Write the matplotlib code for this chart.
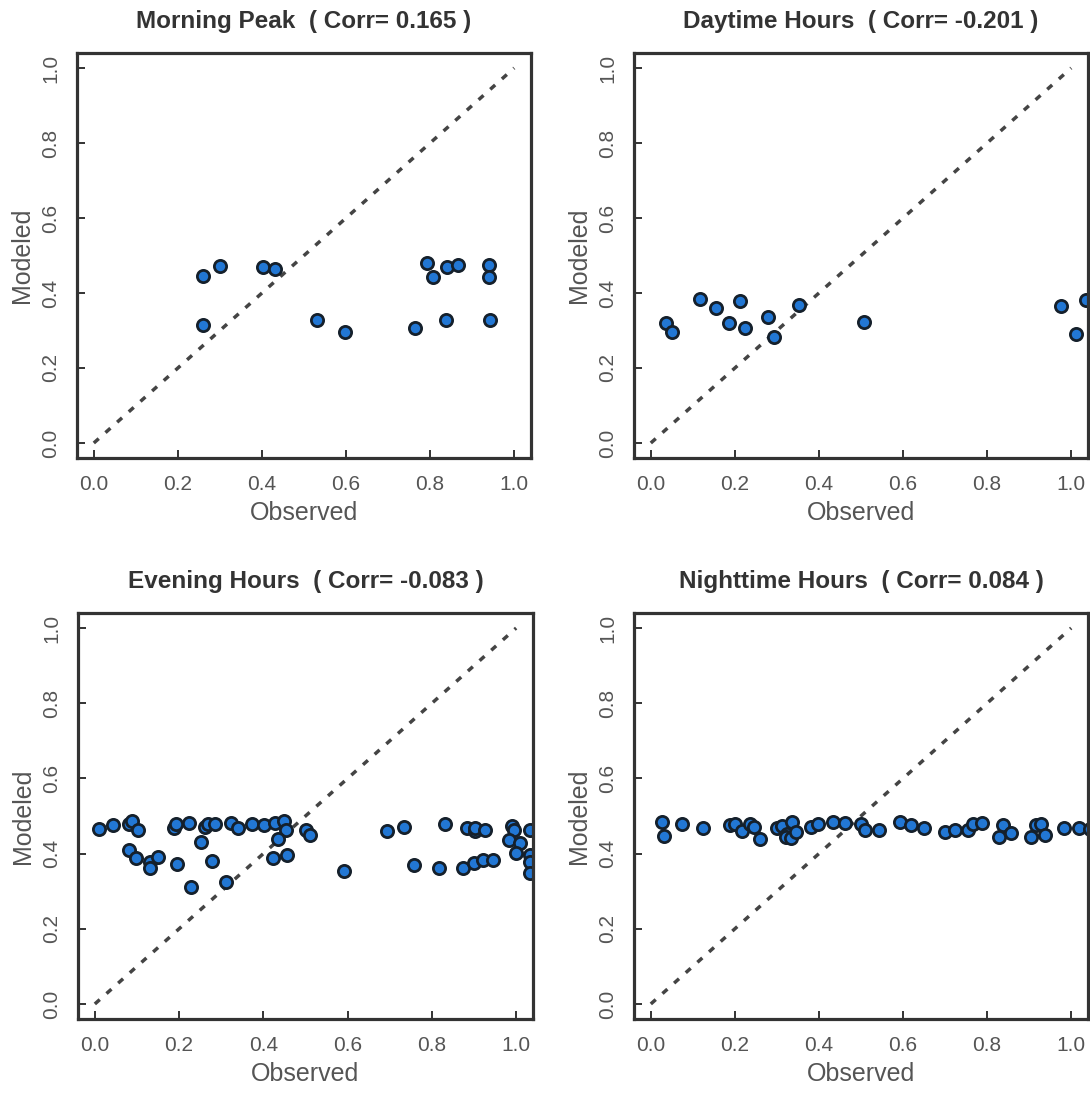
"""Observed vs modeled share by time-of-day period, 2x2 scatter with 1:1 line."""
import matplotlib.pyplot as plt

plt.rcParams["font.family"] = ["Liberation Sans", "DejaVu Sans"]

PERIODS = ["Morning Peak", "Daytime Hours", "Evening Hours", "Nighttime Hours"]
CORRS = ["0.165", "-0.201", "-0.083", "0.084"]

morning_obs = [0.259, 0.259, 0.299, 0.403, 0.432, 0.530, 0.597, 0.763, 0.792, 0.807,
               0.840, 0.867, 0.838, 0.939, 0.939, 0.943]
morning_mod = [0.446, 0.315, 0.473, 0.470, 0.465, 0.329, 0.297, 0.306, 0.480, 0.443,
               0.470, 0.474, 0.329, 0.474, 0.443, 0.329]

daytime_obs = [0.035, 0.051, 0.118, 0.156, 0.187, 0.211, 0.223, 0.278, 0.294, 0.353,
               0.508, 0.975, 1.012, 1.036]
daytime_mod = [0.320, 0.296, 0.383, 0.360, 0.320, 0.379, 0.306, 0.335, 0.283, 0.369,
               0.324, 0.365, 0.292, 0.382]

evening_obs = [0.010, 0.042, 0.080, 0.088, 0.103, 0.082, 0.097, 0.130, 0.132, 0.151,
               0.196, 0.188, 0.193, 0.223, 0.252, 0.261, 0.269, 0.286, 0.279, 0.323,
               0.340, 0.373, 0.402, 0.427, 0.450, 0.453, 0.434, 0.423, 0.456, 0.500,
               0.510, 0.591, 0.694, 0.734, 0.757, 0.816, 0.830, 0.875, 0.884, 0.902,
               0.902, 0.900, 0.921, 0.925, 0.946, 0.989, 0.996, 0.982, 1.008, 1.000,
               1.033, 1.033, 1.032, 1.032, 0.229, 0.311]
evening_mod = [0.466, 0.475, 0.480, 0.487, 0.462, 0.409, 0.389, 0.378, 0.362, 0.390,
               0.372, 0.467, 0.478, 0.481, 0.431, 0.471, 0.479, 0.479, 0.381, 0.481,
               0.469, 0.479, 0.476, 0.481, 0.487, 0.462, 0.440, 0.387, 0.395, 0.463,
               0.449, 0.355, 0.460, 0.472, 0.369, 0.362, 0.478, 0.363, 0.467, 0.460,
               0.467, 0.375, 0.384, 0.462, 0.384, 0.473, 0.462, 0.437, 0.429, 0.402,
               0.463, 0.397, 0.378, 0.348, 0.311, 0.325]

night_obs = [0.027, 0.031, 0.075, 0.123, 0.189, 0.201, 0.217, 0.237, 0.245, 0.259,
             0.301, 0.313, 0.337, 0.325, 0.321, 0.333, 0.345, 0.381, 0.397, 0.433,
             0.463, 0.501, 0.509, 0.543, 0.593, 0.619, 0.649, 0.700, 0.723, 0.755,
             0.767, 0.788, 0.838, 0.828, 0.856, 0.916, 0.904, 0.928, 0.938, 0.984,
             1.018, 1.045]
night_mod = [0.483, 0.447, 0.480, 0.469, 0.477, 0.480, 0.460, 0.480, 0.471, 0.438,
             0.467, 0.473, 0.483, 0.453, 0.444, 0.442, 0.458, 0.471, 0.480, 0.484,
             0.481, 0.480, 0.462, 0.462, 0.483, 0.477, 0.467, 0.458, 0.462, 0.464,
             0.480, 0.482, 0.477, 0.444, 0.456, 0.475, 0.444, 0.480, 0.449, 0.469,
             0.469, 0.465]

SERIES = [(morning_obs, morning_mod), (daytime_obs, daytime_mod),
          (evening_obs, evening_mod), (night_obs, night_mod)]
TICKS = [0.0, 0.2, 0.4, 0.6, 0.8, 1.0]

# axes boxes in pixels (left, top, right, bottom) on the 1090x1093 canvas
W, H = 1090, 1093
BOXES = [(77, 53, 531, 458), (634, 53, 1088, 458),
         (78, 613, 533, 1019), (634, 613, 1088, 1019)]

INK = "#333333"
LABEL = "#555555"

fig = plt.figure(figsize=(W / 100, H / 100), dpi=100)
for (l, t, r, b), name, corr, (obs, mod) in zip(BOXES, PERIODS, CORRS, SERIES):
    ax = fig.add_axes([l / W, (H - b) / H, (r - l) / W, (b - t) / H])
    ax.plot([0, 1], [0, 1], color="#444444", linewidth=2.5,
            linestyle=(0, (1.9, 2.6)), dash_capstyle="butt", zorder=1)
    ax.plot(obs, mod, linestyle="none", marker="o", markersize=8.8,
            markerfacecolor="#2277d4", markeredgecolor="#15202b",
            markeredgewidth=2.0, zorder=2)
    ax.set_xlim(-0.04, 1.04)
    ax.set_ylim(-0.04, 1.04)
    ax.set_xticks(TICKS)
    ax.set_yticks(TICKS)
    ax.set_xticklabels([f"{v:.1f}" for v in TICKS])
    ax.set_yticklabels([f"{v:.1f}" for v in TICKS], rotation=90, va="center")
    ax.tick_params(direction="in", length=6, width=1.4, color=INK,
                   labelsize=15, labelcolor=LABEL, pad=12)
    for sp in ax.spines.values():
        sp.set_linewidth(2.3)
        sp.set_color(INK)
    ax.set_xlabel("Observed", fontsize=18, color=LABEL, labelpad=5)
    ax.set_ylabel("Modeled", fontsize=18, color=LABEL, labelpad=5)
    ax.text(0.5, 1.077, f"{name}  ( Corr= {corr} )", transform=ax.transAxes,
            ha="center", va="center", fontsize=17.5, fontweight="bold", color=INK)

fig.savefig("out.png", dpi=100)
